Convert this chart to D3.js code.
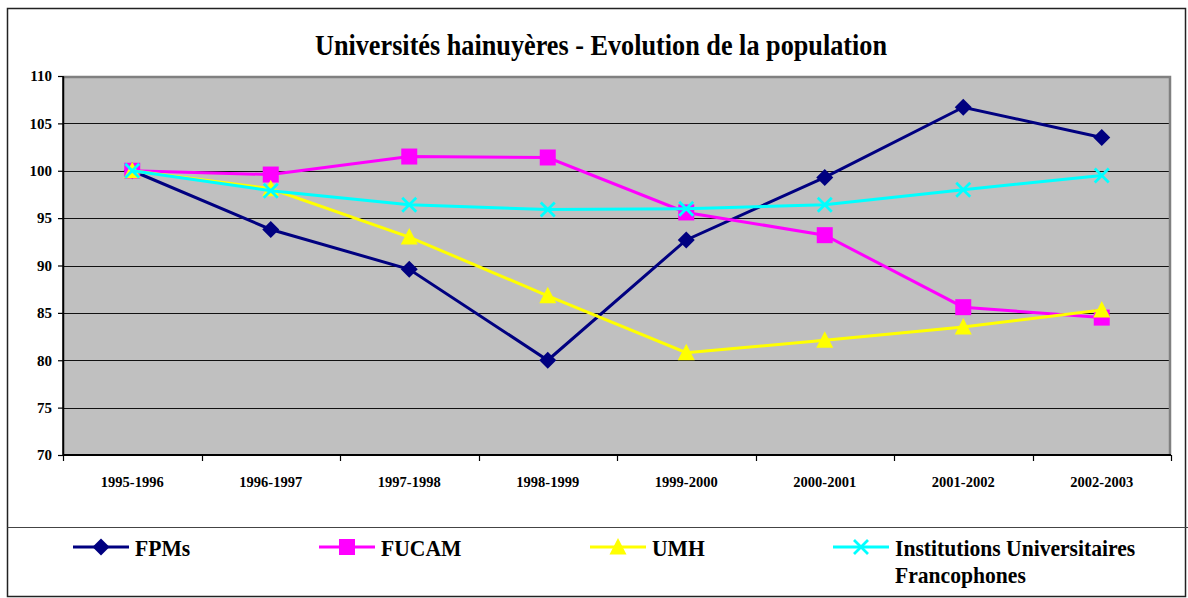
<!DOCTYPE html>
<html>
  <head>
    <meta charset="utf-8">
    <script src="https://d3js.org/d3.v7.min.js"></script>
    <title>Universités hainuyères</title>
    <style>
      body { margin: 0; background: #fff; }
    </style>
  </head>
  <body>
  <svg width="1188" height="598"></svg>

  <script>
      // data
      var years = ['1995-1996', '1996-1997', '1997-1998', '1998-1999',
                   '1999-2000', '2000-2001', '2001-2002', '2002-2003'];
      var fpms  = [100, 93.8, 89.6, 80.0, 92.7, 99.3, 106.7, 103.5];
      var fucam = [100, 99.6, 101.5, 101.4, 95.6, 93.2, 85.6, 84.5];
      var umh   = [100, 98.1, 93.0, 86.8, 80.8, 82.1, 83.5, 85.3];
      var iuf   = [100, 97.9, 96.4, 95.9, 96.0, 96.4, 98.0, 99.5];
      var yTicks = [70, 75, 80, 85, 90, 95, 100, 105, 110];

      var series = [
        {name: 'FPMs', values: fpms, color: '#000080', marker: 'diamond'},
        {name: 'FUCAM', values: fucam, color: '#ff00ff', marker: 'square'},
        {name: 'UMH', values: umh, color: '#ffff00', marker: 'triangle'},
        {name: 'Institutions Universitaires|Francophones', values: iuf, color: '#00ffff', marker: 'x'}
      ];

      var FONT = "'Liberation Serif', 'Times New Roman', serif";

      var svg = d3.select('svg');
      var margin = {left: 63, top: 76, right: 1171, bottom: 455};
      var innerWidth = margin.right - margin.left;
      var innerHeight = margin.bottom - margin.top;

      // outer frame + legend separator
      svg.append('rect')
        .attr('x', 7.5).attr('y', 8.5)
        .attr('width', 1178).attr('height', 588)
        .attr('fill', 'white').attr('stroke', '#222').attr('stroke-width', 1.5);
      svg.append('line')
        .attr('x1', 7.5).attr('x2', 1188)
        .attr('y1', 527.5).attr('y2', 527.5)
        .attr('stroke', '#444').attr('stroke-width', 1.2);

      var xScale = d3.scaleBand()
        .domain(years)
        .range([0, innerWidth])
        .padding(0);

      var yScale = d3.scaleLinear()
        .domain([70, 110])
        .range([innerHeight, 0]);

      var plot = svg.append('g')
        .attr('transform', `translate(${margin.left}, ${margin.top})`);

      plot.append('rect')
        .attr('width', innerWidth).attr('height', innerHeight)
        .attr('fill', '#c0c0c0');

      // gridlines
      plot.append('g')
        .selectAll('line')
        .data(yTicks.filter(d => d > 70 && d < 110))
        .enter().append('line')
        .attr('x1', 0).attr('x2', innerWidth)
        .attr('y1', d => Math.round(yScale(d)) + 0.5)
        .attr('y2', d => Math.round(yScale(d)) + 0.5)
        .attr('stroke', '#111').attr('stroke-width', 1.2);

      // gray border top + right
      plot.append('path')
        .attr('d', `M0,1 H${innerWidth - 1} V${innerHeight}`)
        .attr('fill', 'none').attr('stroke', '#808080').attr('stroke-width', 2.5);

      // y axis
      var yAxis = d3.axisLeft(yScale)
        .tickValues(yTicks)
        .tickSize(5)
        .tickPadding(6)
        .tickSizeOuter(0);
      var gy = plot.append('g').call(yAxis).attr('font-family', FONT);
      gy.select('.domain').attr('stroke', '#000').attr('stroke-width', 1.5);
      gy.selectAll('.tick line').attr('stroke', '#000').attr('stroke-width', 1.2);
      gy.selectAll('text')
        .attr('font-family', FONT)
        .attr('font-weight', 'bold')
        .attr('font-size', 15)
        .attr('fill', '#000');

      // x axis: labels centred in bands, ticks on band edges
      var xAxis = d3.axisBottom(xScale)
        .tickSize(0)
        .tickPadding(22)
        .tickSizeOuter(0);
      var gx = plot.append('g')
        .attr('transform', `translate(0, ${innerHeight})`)
        .call(xAxis).attr('font-family', FONT);
      gx.select('.domain').remove();
      gx.selectAll('text')
        .attr('font-family', FONT)
        .attr('font-weight', 'bold')
        .attr('font-size', 14.5)
        .attr('fill', '#000');

      plot.append('g')
        .selectAll('line')
        .data(years.map(d => xScale(d)).concat([innerWidth]))
        .enter().append('line')
        .attr('x1', d => Math.round(d) + 0.5).attr('x2', d => Math.round(d) + 0.5)
        .attr('y1', innerHeight).attr('y2', innerHeight + 6)
        .attr('stroke', '#000').attr('stroke-width', 1.2);

      plot.append('line')
        .attr('x1', 0).attr('x2', innerWidth)
        .attr('y1', innerHeight).attr('y2', innerHeight)
        .attr('stroke', '#000').attr('stroke-width', 2);
      plot.append('line')
        .attr('x1', 0).attr('x2', 0)
        .attr('y1', 0).attr('y2', innerHeight)
        .attr('stroke', '#000').attr('stroke-width', 1.5);

      function drawMarker(g, type, color) {
        if (type === 'diamond') {
          g.append('path').attr('d', 'M0,-8.5 L8.5,0 L0,8.5 L-8.5,0 Z').attr('fill', color);
        } else if (type === 'square') {
          g.append('rect').attr('x', -8).attr('y', -8).attr('width', 16).attr('height', 16).attr('fill', color);
        } else if (type === 'triangle') {
          g.append('path').attr('d', 'M0,-9 L8.5,7.5 L-8.5,7.5 Z').attr('fill', color);
        } else {
          g.append('path').attr('d', 'M-7,-7 L7,7 M-7,7 L7,-7')
            .attr('stroke', color).attr('stroke-width', 2.8).attr('fill', 'none');
        }
      }

      var line = d3.line()
        .x((d, i) => xScale(years[i]) + xScale.bandwidth() / 2)
        .y(d => yScale(d));

      series.forEach(function (s) {
        plot.append('path')
          .datum(s.values)
          .attr('d', line)
          .attr('fill', 'none')
          .attr('stroke', s.color)
          .attr('stroke-width', 3);
        s.values.forEach(function (v, i) {
          var g = plot.append('g')
            .attr('transform', `translate(${xScale(years[i]) + xScale.bandwidth() / 2}, ${yScale(v)})`);
          drawMarker(g, s.marker, s.color);
        });
      });

      // squeeze text horizontally like the original
      function squeeze(sel, k) {
        sel.each(function () {
          var w = this.getComputedTextLength();
          d3.select(this).attr('textLength', w * k).attr('lengthAdjust', 'spacingAndGlyphs');
        });
      }

      // title
      svg.append('text')
        .attr('x', 601)
        .attr('y', 55)
        .attr('text-anchor', 'middle')
        .attr('font-family', FONT)
        .attr('font-weight', 'bold')
        .attr('font-size', 28.5)
        .text('Universités hainuyères - Evolution de la population')
        .call(squeeze, 0.92);

      // legend
      var legendX = [73, 319, 590, 833];
      series.forEach(function (s, i) {
        var lg = svg.append('g').attr('transform', `translate(${legendX[i]}, 547)`);
        lg.append('line')
          .attr('x1', 0).attr('x2', 56)
          .attr('y1', 0).attr('y2', 0)
          .attr('stroke', s.color).attr('stroke-width', 3);
        drawMarker(lg.append('g').attr('transform', 'translate(28, 0)'), s.marker, s.color);
        s.name.split('|').forEach(function (part, j) {
          lg.append('text')
            .attr('x', 62)
            .attr('y', 9 + j * 27)
            .attr('font-family', FONT)
            .attr('font-weight', 'bold')
            .attr('font-size', 24)
            .text(part)
            .call(squeeze, 0.9);
        });
      });
  </script>
  </body>
</html>
